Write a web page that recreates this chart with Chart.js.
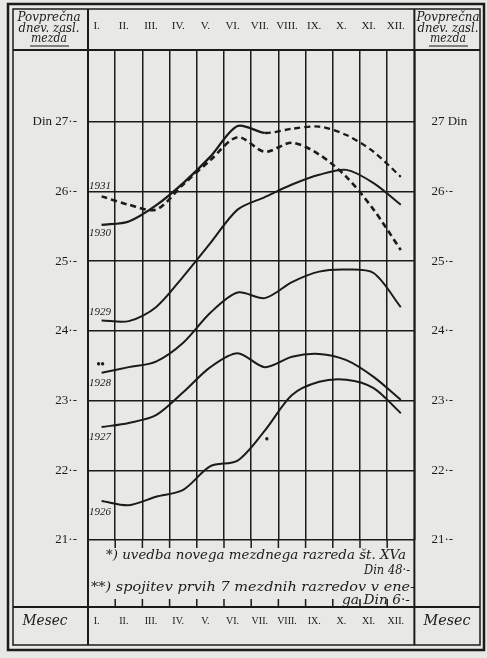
<!DOCTYPE html>
<html>
<head>
<meta charset="utf-8">
<script src="https://cdn.jsdelivr.net/npm/chart.js@4/dist/chart.umd.min.js"></script>
<style>
html, body { margin: 0; padding: 0; background: #e8e8e5; }
canvas { display: block; }
</style>
</head>
<body>
<canvas id="wageChart" width="487" height="658"></canvas>
<script>
// povprečna dnevna mezda po mesecih, 1926 - 1931

const months = ["I.", "II.", "III.", "IV.", "V.", "VI.", "VII.", "VIII.", "IX.", "X.", "XI.", "XII."];
const yTicks = [21, 22, 23, 24, 25, 26, 27];
const leftTickLabels = ["21·-", "22·-", "23·-", "24·-", "25·-", "26·-", "Din 27·-"];
const rightTickLabels = ["21·-", "22·-", "23·-", "24·-", "25·-", "26·-", "27 Din"];

const years = ["1931", "1930", "1929", "1928", "1927", "1926"];
const wage1931 = [25.93, 25.81, 25.74, 26.10, 26.45, 26.78, 26.57, 26.70, 26.53, 26.21, 25.74, 25.16];
const wage1930 = [25.52, 25.57, 25.80, 26.12, 26.50, 26.94, 26.84, 26.90, 26.93, 26.81, 26.57, 26.21];
const wage1929 = [24.15, 24.14, 24.34, 24.78, 25.26, 25.74, 25.92, 26.10, 26.24, 26.31, 26.12, 25.81];
const wage1928 = [23.40, 23.48, 23.56, 23.83, 24.26, 24.55, 24.47, 24.70, 24.85, 24.88, 24.83, 24.34];
const wage1927 = [22.62, 22.68, 22.79, 23.12, 23.48, 23.68, 23.48, 23.63, 23.67, 23.58, 23.34, 23.01];
const wage1926 = [21.56, 21.50, 21.62, 21.72, 22.06, 22.14, 22.57, 23.08, 23.27, 23.30, 23.18, 22.82];

const headerLines = ["Povprečna", "dnev. zasl.", "mezda"];
const rowTitle = "Mesec";
const note1 = ["*) uvedba novega mezdnega razreda št. XVa", "Din 48·-"];
const note2 = ["**) spojitev prvih 7 mezdnih razredov v ene-", "ga Din 6·-"];

const INK = "#1b1b1b";
const PAPER = "#e8e8e5";
const SERIF = "'Liberation Serif', 'DejaVu Serif', serif";
const ITALIC = "'DejaVu Serif', 'Liberation Serif', serif";

// besedilo prilagojeno na dano širino (stari tisk je širok)
function fitText(c, text, x, y, width, align) {
    const w = c.measureText(text).width;
    c.save();
    c.translate(x, y);
    c.scale(width / w, 1);
    c.textAlign = align;
    c.fillText(text, 0, 0);
    c.restore();
}

// ==========================
// okvir tabele, glave, opombe
// ==========================
const framePlugin = {
    id: "frame",
    beforeDraw(chart) {
        const c = chart.ctx;
        c.save();
        c.fillStyle = PAPER;
        c.fillRect(0, 0, chart.width, chart.height);
        c.restore();
    },
    afterDraw(chart) {
        const c = chart.ctx;
        const a = chart.chartArea;
        c.save();
        c.strokeStyle = INK;

        // dvojni zunanji okvir
        c.lineWidth = 2.5;
        c.strokeRect(8, 4, 476, 646);
        c.lineWidth = 1.5;
        c.strokeRect(13, 9, 467, 636);

        // stolpca levo in desno
        c.lineWidth = 2;
        c.beginPath();
        c.moveTo(a.left, 9); c.lineTo(a.left, 645);
        c.moveTo(a.right, 9); c.lineTo(a.right, 645);
        // glava in vrstica "Mesec"
        c.moveTo(13, a.top); c.lineTo(480, a.top);
        c.moveTo(13, 607); c.lineTo(480, 607);
        c.stroke();

        // kratke črtice v polju opomb
        const step = (a.right - a.left) / months.length;
        c.lineWidth = 1.5;
        c.beginPath();
        for (let i = 1; i < months.length; i++) {
            const gx = a.left + step * i;
            c.moveTo(gx, a.bottom); c.lineTo(gx, a.bottom + 8);
            c.moveTo(gx, 599); c.lineTo(gx, 607);
        }
        c.stroke();

        // glava stolpcev
        c.fillStyle = INK;
        c.textBaseline = "middle";
        c.font = "italic 12px " + ITALIC;
        const hy = [18, 29, 39];
        const hw = [63, 61, 36];
        for (const cx of [49, 448]) {
            headerLines.forEach((t, i) => fitText(c, t, cx, hy[i], hw[i], "center"));
            c.lineWidth = 1;
            c.beginPath();
            c.moveTo(cx - 19, 46); c.lineTo(cx + 20, 46);
            c.stroke();
        }
        c.font = "italic 14px " + ITALIC;
        fitText(c, rowTitle, 45, 621, 45, "center");
        fitText(c, rowTitle, 447, 621, 47, "center");

        // opombe
        c.font = "italic 13px " + ITALIC;
        fitText(c, note1[0], 106, 556, 300, "left");
        fitText(c, note2[0], 91, 588, 324, "left");
        fitText(c, note1[1], 410, 571, 46, "right");
        fitText(c, note2[1], 410, 601, 68, "right");
        c.restore();
    }
};

// ==========================
// letnice ob začetku krivulj + oznake opomb
// ==========================
const labelDy = [-10, 8, -8, 10, 10, 11];
const yearPlugin = {
    id: "years",
    afterDatasetsDraw(chart) {
        const c = chart.ctx;
        c.save();
        c.fillStyle = INK;
        c.font = "italic 11px " + SERIF;
        c.textAlign = "left";
        c.textBaseline = "middle";
        chart.data.datasets.forEach((ds, i) => {
            const p = chart.getDatasetMeta(i).data[0];
            c.fillText(ds.label, chart.chartArea.left + 1, p.y + labelDy[i]);
        });
        // ** pri 1928, * pri 1926 (VII.)
        c.font = "bold 12px " + SERIF;
        c.textAlign = "center";
        const p28 = chart.getDatasetMeta(3).data[0];
        c.fillText("••", p28.x - 1, p28.y - 8);
        const p26 = chart.getDatasetMeta(5).data[6];
        c.fillText("•", p26.x + 2, p26.y + 9);
        c.restore();
    }
};

function line(label, data, dashed) {
    return {
        label: label,
        data: data,
        borderColor: INK,
        borderWidth: dashed ? 2.6 : 2,
        borderDash: dashed ? [6, 4] : [],
        pointRadius: 0,
        tension: 0.3,
        fill: false
    };
}

const sets = [
    line(years[0], wage1931, true),
    line(years[1], wage1930, false),
    line(years[2], wage1929, false),
    line(years[3], wage1928, false),
    line(years[4], wage1927, false),
    line(years[5], wage1926, false)
];
// 1930 od VII. dalje črtkano
sets[1].segment = { borderDash: ctx => ctx.p0DataIndex >= 6 ? [6, 4] : undefined };
sets[1].borderWidth = 2.3;

const yMin = 21;
const yMax = 28.03;

new Chart(document.getElementById("wageChart"), {
    type: "line",
    data: { labels: months, datasets: sets },
    plugins: [framePlugin, yearPlugin],
    options: {
        responsive: false,
        animation: false,
        layout: { padding: 0 },
        plugins: { legend: { display: false }, tooltip: { enabled: false } },
        scales: {
            x: {
                position: "bottom",
                offset: true,
                grid: { offset: true, color: INK, lineWidth: 1.5, drawTicks: false },
                border: { display: false },
                ticks: {
                    color: INK, font: { family: SERIF, size: 10 },
                    padding: 75, labelOffset: -5, autoSkip: false, maxRotation: 0
                },
                afterFit: s => { s.height = 118; }
            },
            xTop: {
                type: "category",
                position: "top",
                labels: months,
                offset: true,
                grid: { display: false },
                border: { display: false },
                ticks: {
                    color: INK, font: { family: SERIF, size: 11 },
                    padding: 9, labelOffset: -5, autoSkip: false, maxRotation: 0
                },
                afterFit: s => { s.height = 50; }
            },
            y: {
                position: "left",
                min: yMin,
                max: yMax,
                grid: { color: INK, lineWidth: 1.5, drawTicks: false },
                border: { display: false },
                afterBuildTicks: s => { s.ticks = yTicks.map(v => ({ value: v })); },
                ticks: {
                    color: INK, font: { family: SERIF, size: 13 }, padding: 11,
                    callback: v => leftTickLabels[yTicks.indexOf(v)]
                },
                afterFit: s => { s.width = 88; }
            },
            y2: {
                position: "right",
                min: yMin,
                max: yMax,
                grid: { display: false },
                border: { display: false },
                afterBuildTicks: s => { s.ticks = yTicks.map(v => ({ value: v })); },
                ticks: {
                    color: INK, font: { family: SERIF, size: 13 }, padding: 9,
                    callback: v => rightTickLabels[yTicks.indexOf(v)]
                },
                afterFit: s => { s.width = 69; }
            }
        }
    }
});
</script>
</body>
</html>
